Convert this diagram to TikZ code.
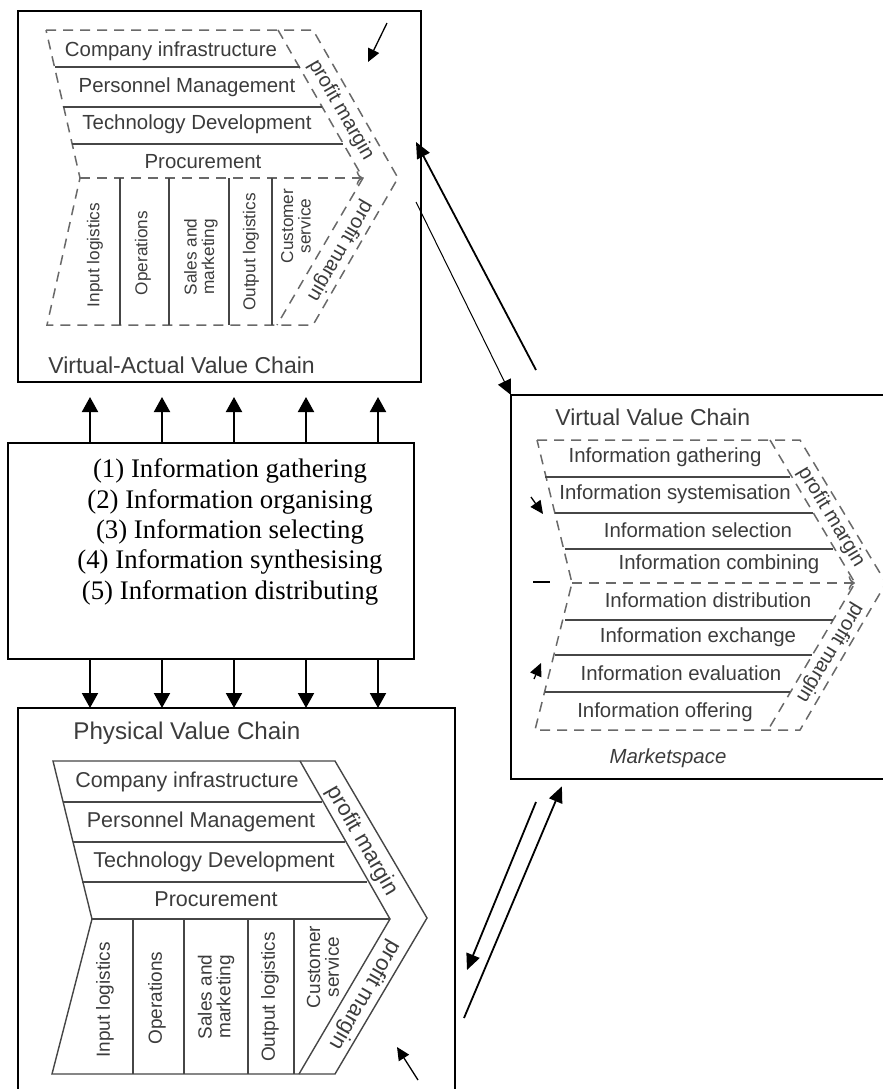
\documentclass[tikz,border=0pt]{standalone}
\usepackage{fontspec}
\setmainfont{Liberation Serif}
\setsansfont{Liberation Sans}
\usetikzlibrary{arrows.meta}
\definecolor{VCink}{RGB}{60,60,60}
\definecolor{VCdash}{RGB}{105,105,105}
\definecolor{VCrule}{RGB}{70,70,70}
\tikzset{
  panel/.style={draw=black,line width=1pt,inner sep=0pt,outer sep=0pt},
  heading/.style={font=\sffamily\fontsize{11.5}{13}\selectfont,text=VCink,anchor=west,inner sep=0pt},
  act/.style={font=\sffamily\fontsize{10.2}{12}\selectfont,text=VCink,inner sep=0pt},
  prim/.style={font=\sffamily\fontsize{8.6}{8.8}\selectfont,text=VCink,align=center,rotate=90,inner sep=0pt},
  pmargin/.style={font=\sffamily\fontsize{10.1}{12}\selectfont,text=VCink,inner sep=0pt},
  chainedge/.style={draw=VCdash,line width=0.75pt,dash pattern=on 5pt off 3.5pt},
  chainsolid/.style={draw=VCrule,line width=0.7pt},
  rowline/.style={draw=VCrule,line width=0.6pt},
  fl/.style={-{Triangle[length=7.5pt,width=8pt]},line width=1pt,draw=black},
  fld/.style={-{Triangle[length=8pt,width=7pt]},line width=0.9pt,draw=black},
  flt/.style={-{Triangle[length=7.5pt,width=7pt]},line width=0.5pt,draw=black},
  tick/.style={-{Triangle[length=6.5pt,width=6pt]},line width=0.65pt,draw=black}
}

\begin{document}
\begin{tikzpicture}[x=0.5pt,y=-0.5pt]
  \clip (0,0) rectangle (883,1089);
  \fill[white] (0,0) rectangle (883,1089);

  % the four frames
  \node[panel,minimum width=201.5pt,minimum height=185.5pt] (vac) at (219.5,196.5) {};
  \node[panel,minimum width=203pt,minimum height=108pt] (info) at (211,551) {};
  \node[panel,minimum width=218.5pt,minimum height=196pt] (pvc) at (236.5,904) {};
  \node[panel,minimum width=192pt,minimum height=192pt] (vvc) at (703,587) {};

  % virtual-actual value chain (dashed)
  \draw[chainedge] (46,30) -- (313,30) -- (398,178) -- (313,325) -- (47,325) -- (80,178) -- cycle;
  \draw[chainedge] (278,30) -- (363,178) -- (277,325);
  \draw[chainedge,->] (80,178) -- (363,178);
  \draw[rowline] (55,67) -- (300,67);
  \draw[rowline] (63,107) -- (322,107);
  \draw[rowline] (72,144) -- (343,144);
  \foreach \x in {120,169,229,272}
    \draw[rowline] (\x,178) -- (\x,325);
  \node[act] (vac1) at (171,51) {Company infrastructure};
  \node[act] (vac2) at (187,87) {Personnel Management};
  \node[act] (vac3) at (197,124) {Technology Development};
  \node[act] (vac4) at (203,162) {Procurement};
  \node[prim] (vac5) at (95,255) {Input logistics};
  \node[prim] (vac6) at (143,253) {Operations};
  \node[prim] (vac7) at (201,257) {Sales and\\marketing};
  \node[prim] (vac8) at (251,252) {Output logistics};
  \node[prim] (vac9) at (296,226) {Customer\\service};
  \node[pmargin,rotate=-60] (vacm1) at (341,110) {profit margin};
  \node[pmargin,rotate=-120] (vacm2) at (340,251) {profit margin};
  \node[heading] (vact) at (48,365) {Virtual-Actual Value Chain};
  \coordinate (vacs) at (387,23);
  \coordinate (vace) at (368,62);
  \draw[tick] (vacs) -- (vace);

  % the five steps
  \node[font=\fontsize{13.4}{15.15}\selectfont,align=center] (steps) at (230,532)
    {(1) Information gathering\\(2) Information organising\\(3) Information selecting\\%
     (4) Information synthesising\\(5) Information distributing};
  \foreach \x in {90,162,234,306,378} {
    \draw[fl,shorten >=7.5pt] (\x,0 |- info.north) -- (\x,0 |- vac.south);
    \draw[fl] (\x,0 |- info.south) -- (\x,0 |- pvc.north);
  }

  % virtual value chain (dashed)
  \draw[chainedge] (537,440) -- (800,440) -- (886,583) -- (800,730) -- (535,730) -- (572,583) -- cycle;
  \draw[chainedge] (770,440) -- (855,583) -- (768,730);
  \draw[chainedge,->] (572,583) -- (855,583);
  \draw[rowline] (545,477) -- (790,477);
  \draw[rowline] (555,513) -- (813,513);
  \draw[rowline] (565,549) -- (833,549);
  \draw[rowline] (565,620) -- (833,620);
  \draw[rowline] (555,655) -- (812,655);
  \draw[rowline] (545,692) -- (790,692);
  \node[act] (vvc1) at (665,457) {Information gathering};
  \node[act] (vvc2) at (675,494) {Information systemisation};
  \node[act] (vvc3) at (698,530) {Information selection};
  \node[act] (vvc4) at (719,564) {Information combining};
  \node[act] (vvc5) at (708,600) {Information distribution};
  \node[act] (vvc6) at (698,637) {Information exchange};
  \node[act] (vvc7) at (681,673) {Information evaluation};
  \node[act] (vvc8) at (665,712) {Information offering};
  \node[pmargin,rotate=-59] (vvcm1) at (831,517) {profit margin};
  \node[pmargin,rotate=-121] (vvcm2) at (830,653) {profit margin};
  \node[heading] (vvct) at (555,417) {Virtual Value Chain};
  \node[act,font=\sffamily\itshape\fontsize{10.2}{12}\selectfont] (vvcs) at (668,758) {Marketspace};
  \coordinate (vvca) at (531,497);
  \coordinate (vvcb) at (543,514);
  \coordinate (vvcc) at (534,679);
  \coordinate (vvcd) at (541,663);
  \draw[tick] (vvca) -- (vvcb);
  \draw[tick] (vvcc) -- (vvcd);
  \draw[line width=0.6pt] (533,582) -- (550,582);

  % physical value chain (solid)
  \draw[chainsolid] (53,761) -- (335,761) -- (427,918) -- (335,1074) -- (52,1074) -- (92,919) -- cycle;
  \draw[chainsolid] (300,761) -- (390,919) -- (299,1074);
  \draw[chainsolid] (63,802) -- (322,802);
  \draw[chainsolid] (73,842) -- (345,842);
  \draw[chainsolid] (82,882) -- (367,882);
  \draw[chainsolid] (92,919) -- (390,919);
  \foreach \x in {133,184,248,294}
    \draw[chainsolid] (\x,919) -- (\x,1074);
  \node[act,font=\sffamily\fontsize{10.75}{12}\selectfont] (pvc1) at (187,782) {Company infrastructure};
  \node[act,font=\sffamily\fontsize{10.75}{12}\selectfont] (pvc2) at (201,822) {Personnel Management};
  \node[act,font=\sffamily\fontsize{10.75}{12}\selectfont] (pvc3) at (214,862) {Technology Development};
  \node[act,font=\sffamily\fontsize{10.75}{12}\selectfont] (pvc4) at (216,899) {Procurement};
  \node[prim,font=\sffamily\fontsize{9.5}{9.4}\selectfont] (pvc5) at (105,1000) {Input logistics};
  \node[prim,font=\sffamily\fontsize{9.5}{9.4}\selectfont] (pvc6) at (157,998) {Operations};
  \node[prim,font=\sffamily\fontsize{9.5}{9.4}\selectfont] (pvc7) at (216,997) {Sales and\\marketing};
  \node[prim,font=\sffamily\fontsize{9.5}{9.4}\selectfont] (pvc8) at (270,997) {Output logistics};
  \node[prim,font=\sffamily\fontsize{9.5}{9.4}\selectfont] (pvc9) at (323,967) {Customer\\service};
  \node[pmargin,font=\sffamily\fontsize{11}{12}\selectfont,rotate=-60] (pvcm1) at (362,841) {profit margin};
  \node[pmargin,font=\sffamily\fontsize{11}{12}\selectfont,rotate=-120] (pvcm2) at (365,995) {profit margin};
  \node[heading,font=\sffamily\fontsize{12.1}{13}\selectfont] (pvct) at (73,733) {Physical Value Chain};
  \coordinate (pvcs) at (418,1080);
  \coordinate (pvce) at (397,1047);
  \draw[tick] (pvcs) -- (pvce);

  % links between the chains
  \coordinate (up1) at (536,370);
  \coordinate (up2) at (416,142);
  \coordinate (dn1) at (416,202);
  \draw[fld] (up1) -- (up2);
  \draw[flt] (dn1) -- (vvc.north west);
  \coordinate (lo1) at (536,802);
  \coordinate (lo2) at (467,970);
  \coordinate (lo3) at (464,1018);
  \draw[fld] (lo1) -- (lo2);
  \draw[fld,shorten >=4pt] (lo3) -- (565,0 |- vvc.south);
\end{tikzpicture}
\end{document}
